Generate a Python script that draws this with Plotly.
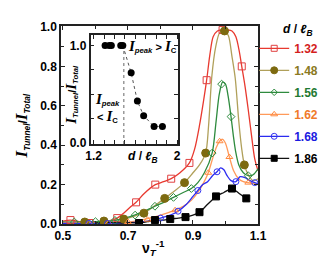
import plotly.graph_objects as go

# ---------------- data ----------------
labels = ["1.32", "1.48", "1.56", "1.62", "1.68", "1.86"]

x_132 = [0.50, 0.523, 0.55, 0.582, 0.61, 0.64, 0.667, 0.69, 0.71, 0.725, 0.75, 0.784, 0.81, 0.833, 0.86, 0.889, 0.905, 0.92, 0.932, 0.942, 0.952, 0.962, 0.975, 0.99, 1.005, 1.02, 1.032, 1.042, 1.05, 1.06, 1.07, 1.08, 1.09, 1.1]
y_132 = [0.015, 0.02, 0.012, 0.005, 0.01, 0.015, 0.03, 0.06, 0.09, 0.11, 0.155, 0.20, 0.215, 0.23, 0.26, 0.31, 0.38, 0.50, 0.62, 0.73, 0.86, 0.95, 0.98, 0.985, 0.985, 0.98, 0.95, 0.88, 0.80, 0.70, 0.58, 0.45, 0.33, 0.27]
mx_132 = [0.523, 0.582, 0.667, 0.725, 0.784, 0.833, 0.889, 0.942, 0.991, 1.05]
my_132 = [0.02, 0.005, 0.03, 0.11, 0.20, 0.23, 0.31, 0.73, 0.985, 0.80]

x_148 = [0.50, 0.53, 0.567, 0.60, 0.626, 0.66, 0.687, 0.72, 0.749, 0.78, 0.813, 0.845, 0.874, 0.90, 0.92, 0.939, 0.948, 0.958, 0.97, 0.982, 0.997, 1.009, 1.02, 1.03, 1.041, 1.05, 1.058, 1.07, 1.085, 1.1]
y_148 = [0.01, 0.01, 0.01, 0.012, 0.015, 0.02, 0.025, 0.04, 0.055, 0.09, 0.13, 0.17, 0.21, 0.26, 0.30, 0.36, 0.50, 0.75, 0.90, 0.97, 0.98, 0.955, 0.85, 0.74, 0.52, 0.38, 0.30, 0.25, 0.22, 0.23]
mx_148 = [0.567, 0.626, 0.687, 0.749, 0.813, 0.874, 0.939, 0.997, 1.058]
my_148 = [0.01, 0.015, 0.025, 0.055, 0.13, 0.21, 0.36, 0.98, 0.30]

x_156 = [0.50, 0.535, 0.57, 0.60, 0.63, 0.66, 0.69, 0.72, 0.75, 0.783, 0.81, 0.84, 0.87, 0.895, 0.915, 0.935, 0.959, 0.971, 0.981, 0.991, 1.0, 1.008, 1.017, 1.024, 1.031, 1.041, 1.055, 1.07, 1.085, 1.1]
y_156 = [0.01, 0.01, 0.01, 0.012, 0.012, 0.018, 0.03, 0.045, 0.065, 0.09, 0.11, 0.135, 0.16, 0.18, 0.21, 0.26, 0.36, 0.52, 0.66, 0.72, 0.71, 0.65, 0.545, 0.45, 0.37, 0.30, 0.26, 0.245, 0.25, 0.28]
mx_156 = [0.535, 0.60, 0.66, 0.722, 0.783, 0.84, 0.895, 0.959, 0.988, 1.017, 1.07]
my_156 = [0.01, 0.012, 0.018, 0.045, 0.09, 0.135, 0.18, 0.36, 0.71, 0.545, 0.245]

x_162 = [0.50, 0.55, 0.58, 0.62, 0.66, 0.70, 0.74, 0.78, 0.81, 0.845, 0.87, 0.895, 0.915, 0.933, 0.947, 0.96, 0.972, 0.982, 0.991, 1.0, 1.012, 1.025, 1.04, 1.055, 1.07, 1.085, 1.1]
y_162 = [0.005, 0.005, 0.005, 0.005, 0.008, 0.01, 0.02, 0.035, 0.05, 0.07, 0.09, 0.12, 0.16, 0.21, 0.26, 0.33, 0.39, 0.42, 0.43, 0.41, 0.34, 0.27, 0.23, 0.215, 0.21, 0.205, 0.20]
mx_162 = [0.58, 0.64, 0.70, 0.76, 0.845, 0.947, 0.982, 1.012, 1.07]
my_162 = [0.005, 0.005, 0.01, 0.022, 0.07, 0.26, 0.42, 0.34, 0.21]

x_168 = [0.50, 0.55, 0.60, 0.637, 0.68, 0.72, 0.76, 0.80, 0.83, 0.854, 0.88, 0.90, 0.915, 0.93, 0.945, 0.96, 0.974, 0.985, 0.995, 1.005, 1.017, 1.032, 1.045, 1.06, 1.075, 1.09, 1.1]
y_168 = [0.003, 0.003, 0.003, 0.003, 0.005, 0.008, 0.015, 0.03, 0.045, 0.065, 0.10, 0.14, 0.17, 0.20, 0.215, 0.245, 0.265, 0.285, 0.275, 0.245, 0.22, 0.215, 0.24, 0.235, 0.22, 0.21, 0.205]
mx_168 = [0.58, 0.637, 0.80, 0.854, 0.915, 0.974, 1.032, 1.09]
my_168 = [0.003, 0.003, 0.03, 0.065, 0.17, 0.265, 0.215, 0.21]

x_186 = [0.60, 0.64, 0.68, 0.71, 0.734, 0.76, 0.783, 0.81, 0.83, 0.855, 0.877, 0.90, 0.92, 0.945, 0.971, 0.995, 1.02, 1.042, 1.064]
y_186 = [0.005, 0.008, 0.005, 0.007, 0.005, 0.012, 0.02, 0.02, 0.025, 0.03, 0.035, 0.045, 0.06, 0.10, 0.14, 0.16, 0.18, 0.155, 0.13]
mx_186 = [0.734, 0.783, 0.83, 0.877, 0.92, 0.971, 1.02, 1.064]
my_186 = [0.005, 0.02, 0.025, 0.035, 0.06, 0.14, 0.18, 0.13]

# inset
inset_d = [1.31, 1.35, 1.37, 1.46, 1.48, 1.56, 1.62, 1.68, 1.78, 1.86]
inset_ratio = [1.0, 1.0, 1.0, 1.0, 1.0, 0.72, 0.43, 0.28, 0.17, 0.17]
inset_threshold = 1.49

main_xticks = [0.5, 0.7, 0.9, 1.1]
main_yticks = [0.0, 0.2, 0.4, 0.6, 0.8, 1.0]
inset_xticks = [1.2, 1.3, 1.4, 1.5, 1.6, 1.7, 1.8, 1.9, 2.0]
inset_xtext = ["1.2", "", "", "", "", "", "", "", "2"]
inset_yticks = [0.0, 0.25, 0.5, 0.75, 1.0]
inset_ytext = ["0.0", "", "", "", "1.0"]

# ---------------- styles ----------------
line_cols = ["#e8392f", "#b0a05a", "#2e8b3e", "#ff9a5a", "#2b2bf0", "#111111"]
mark_cols = ["#e04040", "#7d6a10", "#2e8b3e", "#ff8a40", "#3535f0", "#000000"]
text_cols = ["#d41e1e", "#8b7a22", "#1f7a32", "#f07a2a", "#1a1ae0", "#000000"]
symbols = ["square-open", "circle", "diamond-open", "triangle-up-open", "circle-open", "square"]
msizes = [7, 8, 6, 6, 6, 7]
lsizes = [6, 7, 5, 6, 6, 6]

lines_x = [x_132, x_148, x_156, x_162, x_168, x_186]
lines_y = [y_132, y_148, y_156, y_162, y_168, y_186]
marks_x = [mx_132, mx_148, mx_156, mx_162, mx_168, mx_186]
marks_y = [my_132, my_148, my_156, my_162, my_168, my_186]

fig = go.Figure()
for i in range(6):
    fig.add_trace(go.Scatter(x=lines_x[i], y=lines_y[i], mode="lines", line=dict(color=line_cols[i], width=1.3, shape="spline", smoothing=0.8), showlegend=False, hoverinfo="skip"))
for i in range(6):
    fig.add_trace(go.Scatter(x=marks_x[i], y=marks_y[i], mode="markers",
                             marker=dict(symbol=symbols[i], size=msizes[i], color=mark_cols[i], line=dict(color=mark_cols[i], width=1)),
                             showlegend=False))
# legend entries
for i in range(6):
    fig.add_trace(go.Scatter(x=[None], y=[None], mode="lines+markers",
                             line=dict(color=line_cols[i], width=1.3),
                             marker=dict(symbol=symbols[i], size=lsizes[i], color=mark_cols[i], line=dict(color=mark_cols[i], width=1)),
                             name="<span style='color:%s'>%s</span>" % (text_cols[i], labels[i]),
                             legendgroup=labels[i], showlegend=True))

# inset
fig.add_trace(go.Scatter(x=inset_d[4:], y=inset_ratio[4:], mode="lines", line=dict(color="#555", width=1, dash="dot"),
                         xaxis="x2", yaxis="y2", showlegend=False))
fig.add_trace(go.Scatter(x=inset_d, y=inset_ratio, mode="markers", marker=dict(color="black", size=7),
                         xaxis="x2", yaxis="y2", showlegend=False))
fig.add_shape(type="line", xref="x2", yref="y2", x0=inset_threshold, x1=inset_threshold, y0=-0.01, y1=0.97,
              line=dict(color="#666", width=1, dash="dot"))

tickfont = dict(family="Liberation Sans", size=12, color="black", weight="bold")
axcommon = dict(showline=True, linecolor="#222", linewidth=1.5, mirror="ticks", ticks="inside",
                ticklen=4, tickcolor="#222", showgrid=False, zeroline=False, tickfont=tickfont)

L, R, T, B = 53, 67, 13, 44
W, H = 327, 260
pw, ph = W - L - R, H - T - B

def px(xp):
    return (xp - L) / pw

def py(yp):
    return (H - B - yp) / ph

fig.update_layout(
    width=W, height=H, margin=dict(l=L, r=R, t=T, b=B),
    paper_bgcolor="white", plot_bgcolor="white",
    xaxis=dict(range=[0.494, 1.1], tickvals=main_xticks, ticktext=["0.5", "0.7", "0.9", "1.1"],
               minor=dict(tickvals=[0.6, 0.8, 1.0], ticks="inside", ticklen=3, tickcolor="#222"), **axcommon),
    yaxis=dict(range=[0, 1.005], tickvals=main_yticks, ticktext=["0.0", "0.2", "0.4", "0.6", "0.8", "1.0"],
               minor=dict(tickvals=[0.1, 0.3, 0.5, 0.7, 0.9], ticks="inside", ticklen=3, tickcolor="#222"), **axcommon),
    xaxis2=dict(domain=[px(84), px(176)], anchor="y2", range=[1.17, 2.01], tickvals=inset_xticks, ticktext=inset_xtext, **axcommon),
    yaxis2=dict(domain=[py(134), py(22)], anchor="x2", range=[-0.01, 1.11], tickvals=inset_yticks, ticktext=inset_ytext, **axcommon),
    legend=dict(x=px(256), y=py(21), xanchor="left", yanchor="top", bgcolor="rgba(0,0,0,0)",
                font=dict(family="Liberation Sans", size=12, weight="bold"), tracegroupgap=3, itemwidth=30),
    showlegend=True,
)

I = "<span style='font-family:Liberation Serif;font-style:italic;font-weight:bold;font-size:17px'>I</span>"
Ism = "<span style='font-family:Liberation Serif;font-style:italic;font-weight:bold;font-size:15px'>I</span>"
ann = [
    dict(x=px(13), y=py(115), text="<b>%s<sub><i>Tunnel</i></sub>/%s<sub><i>Total</i></sub></b>" % (I, I), textangle=-90, size=12),
    dict(x=px(150), y=py(241), text="<b>ν<sub><i>T</i></sub><sup>-1</sup></b>", textangle=0, size=14),
    dict(x=px(64), y=py(83), text="<b>%s<sub><i>Tunnel</i></sub>/%s<sub><i>Total</i></sub></b>" % (Ism, Ism), textangle=-90, size=11),
    dict(x=px(139), y=py(147), text="<b><i>d</i> / <i>ℓ</i><sub><i>B</i></sub></b>", textangle=0, size=12),
    dict(x=px(149), y=py(34), text="<b>%s<sub><i>peak</i></sub> > %s<sub>C</sub></b>" % (Ism, Ism), textangle=0, size=11),
    dict(x=px(102), y=py(88), text="<b>%s<sub><i>peak</i></sub></b>" % Ism, textangle=0, size=11),
    dict(x=px(102), y=py(106), text="<b>< %s<sub>C</sub></b>" % Ism, textangle=0, size=11),
    dict(x=px(302), y=py(17), text="<b><i>d</i> / <i>ℓ</i><sub><i>B</i></sub></b>", textangle=0, size=12),
]
for a in ann:
    fig.add_annotation(x=a["x"], y=a["y"], xref="paper", yref="paper", text=a["text"], showarrow=False,
                       textangle=a["textangle"], xanchor="center", yanchor="middle",
                       font=dict(family="Liberation Sans", size=a["size"], color="black"))

fig.write_html("out.html")
